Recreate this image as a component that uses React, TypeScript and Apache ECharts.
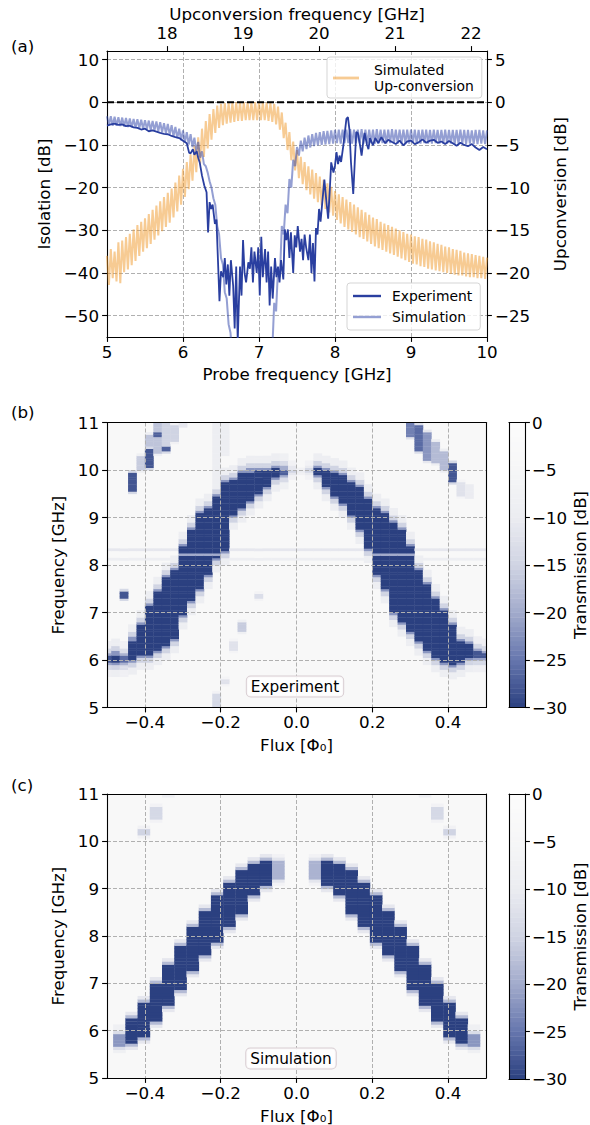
import React, { useEffect, useRef } from 'react';
import * as echarts from 'echarts';

const FONT = 'DejaVu Sans';
const MINUS = '\u2212';
const FS = 16.7;

// ---------------- Panel (a) ----------------
const UPCONV_OFFSET = 12.21; // upconversion freq = probe + offset (GHz)
const UPCONV_TICKS = [18, 19, 20, 21, 22];
const ISO_TICKS = [-50, -40, -30, -20, -10, 0, 10];
const UPDB_TICKS = [-25, -20, -15, -10, -5, 0, 5];

const RIPPLE_START = 5.0;
const RIPPLE_STEP = 0.05;
// simulated up-conversion ripple envelope (right axis, dB), tops at f, bottoms at f + step/2
const UP_HI = [
  -18.0, -17.2, -17.5, -16.4, -16.2, -15.8, -15.4, -14.9, -14.4, -14.0,
  -13.6, -13.1, -12.6, -12.1, -11.6, -11.1, -10.6, -10.1, -9.4, -8.6,
  -7.8, -7.0, -6.1, -5.1, -4.1, -3.1, -2.2, -1.4, -0.8, -0.4,
  -0.2, -0.1, -0.1, -0.05, 0, 0, 0, 0, 0, 0,
  0, 0, -0.05, -0.1, -0.2, -0.5, -1.2, -2.4, -3.5, -4.6,
  -5.6, -6.4, -7.0, -7.5, -7.9, -8.3, -8.7, -9.1, -9.5, -9.9,
  -10.4, -10.8, -11.1, -11.4, -11.7, -12.0, -12.3, -12.6, -12.9, -13.2,
  -13.5, -13.7, -14.0, -14.2, -14.4, -14.6, -14.8, -15.0, -15.2, -15.4,
  -15.5, -15.7, -15.8, -16.0, -16.1, -16.3, -16.4, -16.6, -16.7, -16.9,
  -17.0, -17.2, -17.3, -17.4, -17.6, -17.7, -17.8, -17.9, -18.0, -18.1,
  -18.2,
];
const UP_LO = [
  -21.4, -20.6, -21.0, -21.2, -19.9, -19.6, -19.1, -18.6, -18.0, -17.5,
  -17.1, -16.6, -16.1, -15.6, -15.1, -14.6, -14.1, -13.5, -12.8, -12.0,
  -11.1, -10.2, -9.2, -8.2, -7.2, -6.4, -5.4, -4.4, -3.6, -3.0,
  -2.7, -2.5, -2.4, -2.3, -2.2, -2.2, -2.1, -2.1, -2.1, -2.1,
  -2.1, -2.1, -2.2, -2.3, -2.6, -3.2, -4.2, -5.6, -6.8, -8.0,
  -8.9, -9.6, -10.3, -10.8, -11.3, -11.7, -12.1, -12.5, -12.9, -13.3,
  -13.8, -14.2, -14.6, -14.9, -15.2, -15.5, -15.8, -16.0, -16.3, -16.6,
  -16.9, -17.1, -17.3, -17.5, -17.7, -17.9, -18.1, -18.3, -18.5, -18.7,
  -18.9, -19.0, -19.2, -19.3, -19.5, -19.6, -19.7, -19.8, -19.9, -20.0,
  -20.1, -20.2, -20.3, -20.3, -20.4, -20.5, -20.5, -20.6, -20.6, -20.7,
  -20.7,
];
// simulated isolation ripple envelope (left axis, dB)
const SIM_HI = [
  -3.3, -3.3, -3.4, -3.5, -3.6, -3.7, -3.8, -3.9, -4.0, -4.1,
  -4.2, -4.3, -4.4, -4.5, -4.7, -4.9, -5.1, -5.4, -5.8, -6.2,
  -6.6, -7.0, -7.5, -8.3, -9.3, -11.5, -15.0, -18.5, -22.5, -29.0,
  -36.5, -44.5, -52.0, -60, -60, -60, -60, -60, -60, -60,
  -60, -60, -60, -56, -47, -39, -29, -24, -18, -13.5,
  -10.5, -9.0, -8.3, -7.8, -7.5, -7.2, -7.0, -6.8, -6.7, -6.6,
  -6.5, -6.4, -6.4, -6.4, -6.3, -6.4, -6.4, -6.3, -6.4, -6.4,
  -6.4, -6.3, -6.4, -6.4, -6.4, -6.3, -6.4, -6.4, -6.4, -6.4,
  -6.4, -6.4, -6.5, -6.4, -6.4, -6.5, -6.4, -6.5, -6.5, -6.4,
  -6.5, -6.5, -6.5, -6.4, -6.5, -6.5, -6.6, -6.5, -6.5, -6.6,
  -6.6,
];
const SIM_LO = [
  -5.4, -5.5, -5.5, -5.6, -5.7, -5.8, -5.9, -6.0, -6.1, -6.2,
  -6.3, -6.5, -6.6, -6.8, -7.0, -7.3, -7.6, -8.0, -8.4, -8.9,
  -9.4, -9.9, -10.5, -11.5, -13.0, -14.5, -16.5, -20.0, -24.0, -31.0,
  -38.0, -46.0, -54.0, -60, -60, -60, -60, -60, -60, -60,
  -60, -60, -60, -58, -49, -41, -31, -26, -20, -15,
  -12.5, -11.5, -11.0, -10.6, -10.3, -10.1, -10.0, -9.9, -9.8, -9.7,
  -9.6, -9.7, -9.6, -9.6, -9.7, -9.6, -9.6, -9.7, -9.6, -9.6,
  -9.7, -9.6, -9.6, -9.7, -9.6, -9.6, -9.7, -9.6, -9.6, -9.7,
  -9.6, -9.7, -9.7, -9.6, -9.7, -9.7, -9.6, -9.7, -9.7, -9.7,
  -9.7, -9.8, -9.7, -9.7, -9.8, -9.7, -9.8, -9.8, -9.7, -9.8,
  -9.8,
];
// measured isolation [probe GHz, dB]
const EXPERIMENT = [
  [5.0, -5.5], [5.05, -5.2], [5.1, -5.0], [5.15, -5.3], [5.2, -5.2], [5.25, -5.6], [5.3, -5.5],
  [5.35, -5.9], [5.4, -6.0], [5.45, -6.4], [5.5, -6.2], [5.55, -6.8], [5.6, -6.6], [5.65, -6.9],
  [5.7, -7.2], [5.75, -7.4], [5.8, -7.5], [5.85, -7.9], [5.9, -8.2], [5.95, -8.4], [6.0, -9.0],
  [6.05, -9.6], [6.08, -11.8], [6.1, -12.0], [6.13, -11.0], [6.15, -12.3], [6.18, -11.5],
  [6.2, -13.0], [6.22, -14.1], [6.25, -17.2], [6.28, -19.5], [6.31, -21.1], [6.33, -30.5],
  [6.35, -23.4], [6.37, -25.0], [6.39, -24.0], [6.42, -28.5], [6.44, -27.5], [6.46, -37],
  [6.48, -46.6], [6.5, -39.6], [6.53, -41], [6.55, -36.5], [6.57, -42.7], [6.59, -38],
  [6.61, -45.3], [6.63, -37], [6.66, -43], [6.68, -53], [6.7, -38.5], [6.72, -56],
  [6.75, -38.5], [6.77, -45.3], [6.79, -32.3], [6.81, -40], [6.83, -42.2], [6.86, -37.5],
  [6.88, -39], [6.9, -34], [6.92, -42.2], [6.94, -35], [6.97, -40], [6.99, -34], [7.01, -45.3],
  [7.03, -31.5], [7.05, -41], [7.08, -34.4], [7.1, -42.2], [7.12, -35], [7.14, -47.6],
  [7.16, -38.5], [7.18, -46], [7.21, -36.5], [7.23, -41], [7.25, -38.5], [7.27, -42.2],
  [7.29, -37], [7.32, -41.5], [7.34, -29.8], [7.36, -32.3], [7.38, -29.8], [7.4, -36.5],
  [7.42, -30.5], [7.45, -40], [7.47, -31.2], [7.49, -34], [7.51, -29], [7.54, -35],
  [7.56, -32], [7.58, -37], [7.6, -31], [7.62, -34], [7.65, -37], [7.67, -31], [7.69, -40],
  [7.71, -33], [7.73, -42], [7.75, -29.5], [7.77, -31], [7.79, -25], [7.81, -28], [7.83, -24],
  [7.86, -18.1], [7.88, -22], [7.91, -27.3], [7.93, -21], [7.95, -14.1], [7.98, -16.5],
  [8.0, -14.8], [8.02, -11.7], [8.04, -14.5], [8.06, -12.5], [8.08, -14], [8.11, -10.1],
  [8.13, -7], [8.15, -3.9], [8.17, -3.5], [8.19, -6.4], [8.21, -14], [8.24, -21.5],
  [8.26, -14], [8.28, -7], [8.3, -7.2], [8.33, -10.1], [8.35, -12.5], [8.37, -9.5],
  [8.39, -7.2], [8.42, -9.9], [8.44, -11], [8.46, -8.4], [8.5, -10.1], [8.53, -8.4],
  [8.57, -9.6], [8.61, -8.2], [8.66, -9.6], [8.7, -8.8], [8.75, -9.3], [8.8, -9.8],
  [8.85, -9.0], [8.9, -10.1], [8.95, -9.2], [9.0, -9.0], [9.05, -9.8], [9.1, -9.4],
  [9.15, -8.7], [9.2, -9.5], [9.25, -9.0], [9.3, -8.8], [9.35, -9.5], [9.4, -9.2],
  [9.45, -9.8], [9.5, -9.1], [9.55, -9.6], [9.6, -10.2], [9.65, -9.5], [9.7, -10.0],
  [9.75, -10.3], [9.8, -9.8], [9.85, -10.6], [9.9, -11.2], [9.95, -10.5], [10.0, -11.0],
];

// ---------------- Panels (b), (c) ----------------
const FLUX_TICKS = [-0.4, -0.2, 0, 0.2, 0.4];
const CB_TICKS_MIN = -30;
const CB_TICKS_MAX = 0;

// (b) experiment: 46 flux columns, 0.05 GHz rows
const FLUX_STEP_B = 1 / 45;
const ROW_STEP_B = 0.05;
const BAND_LO_B = [
  5.95, 5.97, 5.95, 6.0, 6.1, 6.1, 6.21, 6.3, 6.45, 6.95, 7.25, 7.5, 7.8, 8.15, 8.3, 9.05,
  9.2, 9.35, 9.5, 9.65, 9.85, 9.9, 9.95, 9.95, 9.95, 9.9, 9.65, 9.45, 9.3, 9.05, 8.75, 8.35,
  7.8, 7.5, 7.0, 6.8, 6.6, 6.4, 6.2, 6.05, 5.95, 5.9, 5.95, 6.05, 6.05, 6.05,
];
const BAND_HI_B = [
  6.1, 6.12, 6.08, 6.42, 6.73, 7.15, 7.44, 7.75, 7.9, 8.4, 8.75, 9.1, 9.2, 9.45, 9.75, 9.8,
  9.95, 9.97, 10.0, 10.0, 10.05, 10.02, 10.02, 10.0, 10.05, 10.05, 10.0, 9.95, 9.9, 9.75, 9.65, 9.4,
  9.2, 9.1, 8.9, 8.75, 8.4, 7.9, 7.6, 7.3, 7.05, 6.75, 6.4, 6.35, 6.2, 6.15,
];
const BAND_V_B = [
  -28, -30, -26, -30, -30, -30, -30, -30, -30, -30, -30, -30, -30, -30, -30, -30,
  -30, -30, -30, -30, -30, -27, -15, -10, -14, -30, -30, -30, -30, -30, -30, -30,
  -30, -30, -30, -30, -30, -30, -30, -30, -30, -30, -30, -30, -28, -28,
];
// [column, low GHz, high GHz, dB]
const EXTRA_B = [
  [2, 7.3, 7.45, -28], [3, 9.55, 9.95, -28], [4, 10.0, 10.3, -16], [5, 10.05, 10.45, -28],
  [5, 10.5, 10.75, -17], [6, 10.35, 11.0, -17], [6, 10.7, 10.8, -27], [7, 10.4, 11.0, -15],
  [7, 10.38, 10.48, -27], [8, 10.6, 10.95, -15], [9, 10.9, 11.0, -11], [13, 9.6, 11.0, -9],
  [13, 5.0, 5.3, -14], [14, 10.3, 11.0, -9], [14, 5.5, 5.6, -12], [15, 6.2, 6.4, -12],
  [16, 6.6, 6.8, -16], [18, 7.3, 7.4, -13], [36, 10.7, 11.0, -24], [37, 10.38, 10.95, -26],
  [38, 10.2, 10.8, -22], [39, 10.15, 10.6, -18], [40, 10.0, 10.4, -18], [41, 9.75, 10.17, -28],
  [42, 9.45, 9.75, -12], [43, 9.4, 9.7, -10],
];
const LINE_F_B = [8.125, 8.325];
const LINE_V_B = [-9, -11];
const STREAK_F_B = 8.225;
const STREAK_V_B = -20;
const HALO_B = [[0.06, -22], [0.16, -15], [0.32, -9]];

// (c) simulation: 32 flux columns, 1/15 GHz rows
const FLUX_STEP_C = 1 / 31;
const ROW_STEP_C = 1 / 15;
const BAND_LO_C = [
  null, 5.68, 5.75, 5.9, 6.2, 6.55, 6.9, 7.3, 7.6, 7.9, 8.2, 8.5, 8.85, 9.1, 9.2, null,
  null, 9.2, 9.1, 8.85, 8.5, 8.2, 7.9, 7.6, 7.3, 6.9, 6.55, 6.2, 5.9, 5.75, 5.68, null,
];
const BAND_HI_C = [
  null, 5.96, 6.28, 6.6, 6.98, 7.4, 7.8, 8.2, 8.55, 8.85, 9.15, 9.4, 9.55, 9.6, 9.6, null,
  null, 9.6, 9.6, 9.55, 9.4, 9.15, 8.85, 8.55, 8.2, 7.8, 7.4, 6.98, 6.6, 6.28, 5.96, null,
];
const BAND_V_C = [
  0, -22, -30, -30, -30, -30, -30, -30, -30, -30, -30, -30, -30, -30, -19, 0,
  0, -19, -30, -30, -30, -30, -30, -30, -30, -30, -30, -30, -30, -30, -22, 0,
];
const EXTRA_C = [
  [3, 10.13, 10.27, -15], [4, 10.47, 10.73, -14], [5, 10.93, 11.0, -9],
  [28, 10.13, 10.27, -15], [27, 10.47, 10.73, -14], [26, 10.93, 11.0, -9],
];
const HALO_C = [[0.07, -18], [0.14, -11]];

const CMAP = ['#2b4080', '#6676ad', '#a2abcc', '#d0d4e3', '#ebecf1', '#f6f6f7', '#fcfcfc'];

// ---------------- builders ----------------
function zig(hi: number[], lo: number[]) {
  const out: number[][] = [];
  for (let k = 0; k < hi.length; k++) {
    const f = RIPPLE_START + RIPPLE_STEP * k;
    out.push([+f.toFixed(4), hi[k]]);
    if (k < hi.length - 1) out.push([+(f + RIPPLE_STEP / 2).toFixed(4), lo[k]]);
  }
  return out;
}

function buildCells(
  nCols: number, fluxStep: number, rowStep: number,
  lo: (number | null)[], hi: (number | null)[], core: number[],
  extras: number[][], halo: number[][],
  lines?: { f: number[]; v: number[]; streak: number; streakV: number }
) {
  const cells: number[][] = [];
  const nRows = Math.round(6 / rowStep);
  const half = rowStep / 2 - 1e-6;
  for (let i = 0; i < nCols; i++) {
    const flux = -0.5 + i * fluxStep;
    for (let r = 0; r < nRows; r++) {
      const f = 5 + (r + 0.5) * rowStep;
      let val = 0;
      let inBand = false;
      const l = lo[i], h = hi[i];
      if (l != null && h != null && core[i] < 0) {
        if (f >= l && f <= h) {
          val = core[i];
          inBand = true;
        } else {
          const d = f < l ? l - f : f - h;
          for (const [dd, hv] of halo) {
            if (d <= dd) { val = Math.min(val, hv * core[i] / -30); break; }
          }
        }
      }
      for (const [c, elo, ehi, ev] of extras) {
        if (c !== i) continue;
        if (f >= elo && f <= ehi) val = Math.min(val, ev);
        else if (Math.min(Math.abs(f - elo), Math.abs(f - ehi)) <= rowStep) val = Math.min(val, ev * 0.5);
      }
      if (lines) {
        lines.f.forEach((lf, k) => {
          if (Math.abs(f - lf) < half) val = Math.min(val, lines.v[k]);
        });
        if (inBand && core[i] <= -28 && Math.abs(f - lines.streak) < half) val = lines.streakV;
      }
      if (val <= -6) cells.push([flux, +f.toFixed(4), val]);
    }
  }
  return cells;
}

const HEAT_B = buildCells(46, FLUX_STEP_B, ROW_STEP_B, BAND_LO_B, BAND_HI_B, BAND_V_B, EXTRA_B, HALO_B,
  { f: LINE_F_B, v: LINE_V_B, streak: STREAK_F_B, streakV: STREAK_V_B });
const HEAT_C = buildCells(32, FLUX_STEP_C, ROW_STEP_C, BAND_LO_C, BAND_HI_C, BAND_V_C, EXTRA_C, HALO_C);

const CB_STEP = 0.5;
const CB_CELLS: number[][] = [];
for (let v = CB_TICKS_MIN; v < CB_TICKS_MAX; v += CB_STEP) CB_CELLS.push([0.5, v + CB_STEP / 2, v + CB_STEP / 2]);

function cellRenderer(w: number, h: number) {
  return (params: any, api: any) => {
    const x = api.value(0), y = api.value(1);
    const a = api.coord([x - w / 2, y + h / 2]);
    const b = api.coord([x + w / 2, y - h / 2]);
    const cs = params.coordSys;
    const rect = echarts.graphic.clipRectByRect(
      { x: a[0], y: a[1], width: b[0] - a[0] + 0.4, height: b[1] - a[1] + 0.4 },
      { x: cs.x, y: cs.y, width: cs.width, height: cs.height }
    );
    if (!rect) return;
    return { type: 'rect', shape: rect, style: { fill: api.visual('color') } };
  };
}

// ---------------- option ----------------
const fmt = (v: number, d = 0) => (d ? Number(v).toFixed(d) : String(v)).replace('-', MINUS);
const AXLINE = { show: true, onZero: false, lineStyle: { color: '#000', width: 1.1 } };
const TICK = (vals?: number[]) => ({ show: true, inside: false, length: 4.9, lineStyle: { color: '#000', width: 1.1 }, ...(vals ? { customValues: vals } : {}) });
const GRIDLINE = { show: true, lineStyle: { color: '#b0b0b0', width: 1, type: [4, 2] as any } };
const LBL = { fontSize: FS, color: '#000', fontFamily: FONT };
const NAME = { fontSize: FS, color: '#000', fontFamily: FONT };

function border(gridIndex: number, position: string, min: number, max: number) {
  return {
    gridIndex, type: 'value', position, min, max, z: 10,
    axisLine: AXLINE, axisTick: { show: false }, axisLabel: { show: false }, splitLine: { show: false },
  };
}

function heatX(gridIndex: number) {
  return {
    gridIndex, type: 'value', position: 'bottom', min: -0.5, max: 0.5, z: 10,
    axisLine: AXLINE, axisTick: TICK(FLUX_TICKS),
    axisLabel: { ...LBL, margin: 6, customValues: FLUX_TICKS, formatter: (v: number) => fmt(v, 1) },
    splitLine: GRIDLINE,
    name: 'Flux [\u03A6\u2080]', nameLocation: 'middle', nameGap: 29, nameTextStyle: NAME,
  };
}
function heatY(gridIndex: number) {
  return {
    gridIndex, type: 'value', position: 'left', min: 5, max: 11, interval: 1, z: 10,
    axisLine: AXLINE, axisTick: TICK(),
    axisLabel: { ...LBL, margin: 8 },
    splitLine: GRIDLINE,
    name: 'Frequency [GHz]', nameLocation: 'middle', nameGap: 33, nameRotate: 90, nameTextStyle: NAME,
  };
}
function cbY(gridIndex: number) {
  return {
    gridIndex, type: 'value', position: 'right', min: CB_TICKS_MIN, max: CB_TICKS_MAX, interval: 5, z: 10,
    axisLine: AXLINE, axisTick: TICK(),
    axisLabel: { ...LBL, margin: 7, formatter: (v: number) => fmt(v) },
    splitLine: { show: false },
    name: 'Transmission [dB]', nameLocation: 'middle', nameGap: 45, nameRotate: 90, nameTextStyle: NAME,
  };
}

function buildOption(): any {
  const upName = 'Simulated\nUp-conversion';
  return {
    animation: false,
    backgroundColor: '#fff',
    textStyle: { fontFamily: FONT },
    grid: [
      { left: 107, top: 51, width: 380, height: 286 },
      { left: 107, top: 422.5, width: 379, height: 285, show: true, backgroundColor: '#f8f8f8', borderWidth: 0 },
      { left: 107, top: 794, width: 379, height: 285, show: true, backgroundColor: '#f8f8f8', borderWidth: 0 },
      { left: 509, top: 422.5, width: 16, height: 285 },
      { left: 509, top: 794, width: 16, height: 285 },
    ],
    xAxis: [
      {
        gridIndex: 0, type: 'value', position: 'bottom', min: 5, max: 10, interval: 1,
        axisLine: AXLINE, axisTick: TICK(), axisLabel: { ...LBL, margin: 6 }, splitLine: GRIDLINE,
        name: 'Probe frequency [GHz]', nameLocation: 'middle', nameGap: 28, nameTextStyle: NAME,
      },
      {
        gridIndex: 0, type: 'value', position: 'top', min: 5 + UPCONV_OFFSET, max: 10 + UPCONV_OFFSET,
        axisLine: AXLINE, axisTick: TICK(UPCONV_TICKS),
        axisLabel: { ...LBL, margin: 10, customValues: UPCONV_TICKS }, splitLine: { show: false },
        name: 'Upconversion frequency [GHz]', nameLocation: 'middle', nameGap: 29, nameTextStyle: NAME,
      },
      heatX(1), border(1, 'top', -0.5, 0.5),
      heatX(2), border(2, 'top', -0.5, 0.5),
      border(3, 'bottom', 0, 1), border(3, 'top', 0, 1),
      border(4, 'bottom', 0, 1), border(4, 'top', 0, 1),
    ],
    yAxis: [
      {
        gridIndex: 0, type: 'value', position: 'left', min: -55, max: 12,
        axisLine: AXLINE, axisTick: TICK(ISO_TICKS),
        axisLabel: { ...LBL, margin: 8, customValues: ISO_TICKS, formatter: (v: number) => fmt(v) },
        splitLine: GRIDLINE,
        name: 'Isolation [dB]', nameLocation: 'middle', nameGap: 46, nameRotate: 90, nameTextStyle: NAME,
      },
      {
        gridIndex: 0, type: 'value', position: 'right', min: -27.5, max: 6,
        axisLine: AXLINE, axisTick: TICK(UPDB_TICKS),
        axisLabel: { ...LBL, margin: 8, customValues: UPDB_TICKS, formatter: (v: number) => fmt(v) },
        splitLine: { show: false },
        name: 'Upconversion [dB]', nameLocation: 'middle', nameGap: 64, nameRotate: 90, nameTextStyle: NAME,
      },
      heatY(1), border(1, 'right', 5, 11),
      heatY(2), border(2, 'right', 5, 11),
      border(3, 'left', CB_TICKS_MIN, CB_TICKS_MAX), cbY(3),
      border(4, 'left', CB_TICKS_MIN, CB_TICKS_MAX), cbY(4),
    ],
    visualMap: [{
      type: 'continuous', show: false, min: -30, max: 0, dimension: 2,
      seriesIndex: [4, 5, 6, 7], inRange: { color: CMAP },
    }],
    legend: [
      {
        data: [upName], left: 327, top: 57, orient: 'vertical', icon: 'rect', itemWidth: 26, itemHeight: 2.8,
        textStyle: { fontSize: 13.9, color: '#000', fontFamily: FONT, lineHeight: 16, padding: [0, 0, 0, 10] },
        backgroundColor: 'rgba(255,255,255,0.8)', borderColor: '#d5d5d5', borderWidth: 1, borderRadius: 3,
        padding: [5, 8, 4, 6], z: 20,
      },
      {
        data: ['Experiment', 'Simulation'], left: 347, top: 283, orient: 'vertical', icon: 'rect',
        itemWidth: 28, itemHeight: 2.4, itemGap: 7,
        textStyle: { fontSize: 13.9, color: '#000', fontFamily: FONT, padding: [0, 0, 0, 6] },
        backgroundColor: 'rgba(255,255,255,0.8)', borderColor: '#d5d5d5', borderWidth: 1, borderRadius: 3,
        padding: [6, 8, 6, 6], z: 20,
      },
    ],
    series: [
      {
        name: upName, type: 'line', xAxisIndex: 0, yAxisIndex: 1, data: zig(UP_HI, UP_LO), showSymbol: false,
        symbol: 'none', color: 'rgba(240,152,40,0.5)', lineStyle: { width: 2, color: 'rgba(240,152,40,0.5)' }, z: 3,
      },
      {
        name: 'Simulation', type: 'line', xAxisIndex: 0, yAxisIndex: 0, data: zig(SIM_HI, SIM_LO), showSymbol: false,
        symbol: 'none', color: 'rgba(42,64,168,0.5)', lineStyle: { width: 2, color: 'rgba(42,64,168,0.5)' }, z: 4,
      },
      {
        name: 'Experiment', type: 'line', xAxisIndex: 0, yAxisIndex: 0, data: EXPERIMENT, showSymbol: false,
        symbol: 'none', color: '#2a3fa0', lineStyle: { width: 1.8, color: '#2a3fa0' }, z: 5,
      },
      {
        name: 'zero', type: 'line', xAxisIndex: 0, yAxisIndex: 0, data: [[5, 0], [10, 0]], showSymbol: false,
        symbol: 'none', silent: true, lineStyle: { width: 2, color: '#000', type: [7, 3] as any }, z: 6,
      },
      {
        name: 'heatB', type: 'custom', xAxisIndex: 2, yAxisIndex: 2, data: HEAT_B, encode: { x: 0, y: 1 },
        renderItem: cellRenderer(FLUX_STEP_B, ROW_STEP_B), silent: true, z: 2,
      },
      {
        name: 'heatC', type: 'custom', xAxisIndex: 4, yAxisIndex: 4, data: HEAT_C, encode: { x: 0, y: 1 },
        renderItem: cellRenderer(FLUX_STEP_C, ROW_STEP_C), silent: true, z: 2,
      },
      {
        name: 'cbB', type: 'custom', xAxisIndex: 6, yAxisIndex: 7, data: CB_CELLS, encode: { x: 0, y: 1 },
        renderItem: cellRenderer(1, CB_STEP), silent: true, z: 2,
      },
      {
        name: 'cbC', type: 'custom', xAxisIndex: 8, yAxisIndex: 9, data: CB_CELLS, encode: { x: 0, y: 1 },
        renderItem: cellRenderer(1, CB_STEP), silent: true, z: 2,
      },
    ],
    graphic: [
      { type: 'text', x: 11, y: 45.5, z: 100, style: { text: '(a)', fontSize: FS, fontFamily: FONT, fill: '#000', verticalAlign: 'middle' } },
      { type: 'text', x: 11, y: 412, z: 100, style: { text: '(b)', fontSize: FS, fontFamily: FONT, fill: '#000', verticalAlign: 'middle' } },
      { type: 'text', x: 11, y: 785, z: 100, style: { text: '(c)', fontSize: FS, fontFamily: FONT, fill: '#000', verticalAlign: 'middle' } },
      {
        type: 'text', x: 295, y: 686.5, z: 100,
        style: {
          text: 'Experiment', fontSize: 15.3, fontFamily: FONT, fill: '#000', align: 'center', verticalAlign: 'middle',
          backgroundColor: 'rgba(255,255,255,0.85)', borderColor: '#d8cdd2', borderWidth: 1, borderRadius: 4, padding: [3, 4, 2, 4],
        },
      },
      {
        type: 'text', x: 291, y: 1058.5, z: 100,
        style: {
          text: 'Simulation', fontSize: 15.3, fontFamily: FONT, fill: '#000', align: 'center', verticalAlign: 'middle',
          backgroundColor: 'rgba(255,255,255,0.85)', borderColor: '#d8cdd2', borderWidth: 1, borderRadius: 4, padding: [3, 4, 2, 4],
        },
      },
    ],
  };
}

export default function App() {
  const ref = useRef<HTMLDivElement>(null);
  useEffect(() => {
    const chart = echarts.init(ref.current!, null, { renderer: 'svg' });
    chart.setOption(buildOption());
    return () => chart.dispose();
  }, []);
  return (
    <div
      ref={ref}
      style={{ position: 'fixed', left: 0, top: 0, width: 590, height: 1125, background: '#fff' }}
    />
  );
}
